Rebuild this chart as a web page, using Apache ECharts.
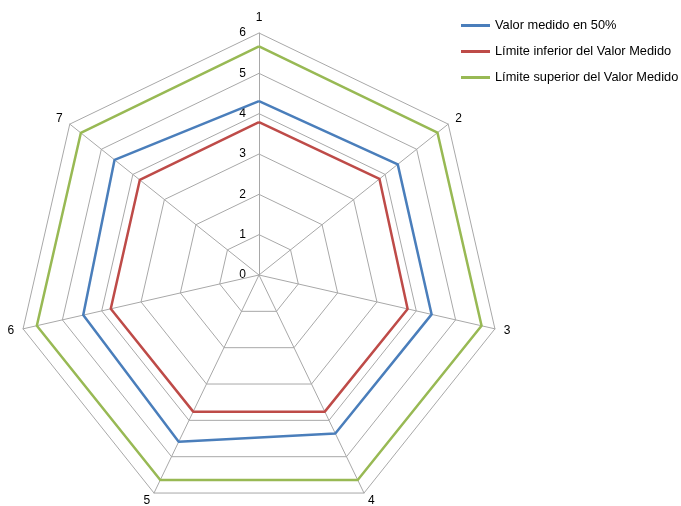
<!DOCTYPE html>
<html><head><meta charset="utf-8">
<script src="https://cdn.jsdelivr.net/npm/echarts@6/dist/echarts.min.js"></script>
<style>html,body{margin:0;padding:0;background:#fff}#c{width:681px;height:506px}</style>
</head><body><div id="c"></div>
<script>
const categories = ['1','2','3','4','5','6','7'];
const tickLabels = ['0','1','2','3','4','5','6'];
const seriesNames = ['Valor medido en 50%','Límite inferior del Valor Medido','Límite superior del Valor Medido'];
const valorMedido = [4.31, 4.40, 4.39, 4.36, 4.59, 4.47, 4.58];
const limiteInferior = [3.79, 3.82, 3.78, 3.76, 3.76, 3.77, 3.78];
const limiteSuperior = [5.67, 5.66, 5.66, 5.64, 5.64, 5.65, 5.65];
const colors = ['#4a7ebb','#be4b48','#98b954'];

// ECharts lays radar axes counter-clockwise; reorder so that axes run clockwise as in the reference
const order = [0].concat(categories.slice(1).map((_, i) => categories.length - 1 - i));
const reorder = arr => order.map(i => arr[i]);
const maxV = Number(tickLabels[tickLabels.length - 1]);

const font = 'Liberation Sans';
const chart = echarts.init(document.getElementById('c'));
chart.setOption({
  animation: false,
  color: colors,
  textStyle: { fontFamily: font },
  legend: {
    orient: 'vertical', left: 456, top: 14,
    itemWidth: 29, itemHeight: 3, itemGap: 13, icon: 'rect',
    textStyle: { fontFamily: font, fontSize: 12.8, color: '#000' },
    data: seriesNames
  },
  radar: {
    center: [259, 275], radius: 242, startAngle: 90,
    shape: 'polygon', splitNumber: 6,
    indicator: reorder(categories).map(c => ({ name: c, min: 0, max: maxV })),
    axisName: { color: '#000', fontFamily: font, fontSize: 12 },
    nameGap: 9,
    axisLine: { lineStyle: { color: '#a8a8a8', width: 1 } },
    splitLine: { lineStyle: { color: '#a8a8a8', width: 1 } },
    splitArea: { show: false },
    axisTick: { show: false },
    axisLabel: { show: false }
  },
  grid: { left: 259, top: 33, width: 1, height: 242 },
  xAxis: { type: 'value', show: false },
  yAxis: {
    type: 'value', min: 0, max: maxV, interval: 1,
    axisLine: { show: false }, axisTick: { show: false }, splitLine: { show: false },
    axisLabel: { margin: 13, color: '#000', fontFamily: font, fontSize: 12,
      formatter: v => tickLabels[v] }
  },
  series: [{
    type: 'radar', symbol: 'none',
    lineStyle: { width: 2.5 },
    data: [
      { name: seriesNames[0], value: reorder(valorMedido), lineStyle: { color: colors[0], width: 2.5 }, itemStyle: { color: colors[0] } },
      { name: seriesNames[1], value: reorder(limiteInferior), lineStyle: { color: colors[1], width: 2.5 }, itemStyle: { color: colors[1] } },
      { name: seriesNames[2], value: reorder(limiteSuperior), lineStyle: { color: colors[2], width: 2.5 }, itemStyle: { color: colors[2] } }
    ]
  }]
});
</script></body></html>
